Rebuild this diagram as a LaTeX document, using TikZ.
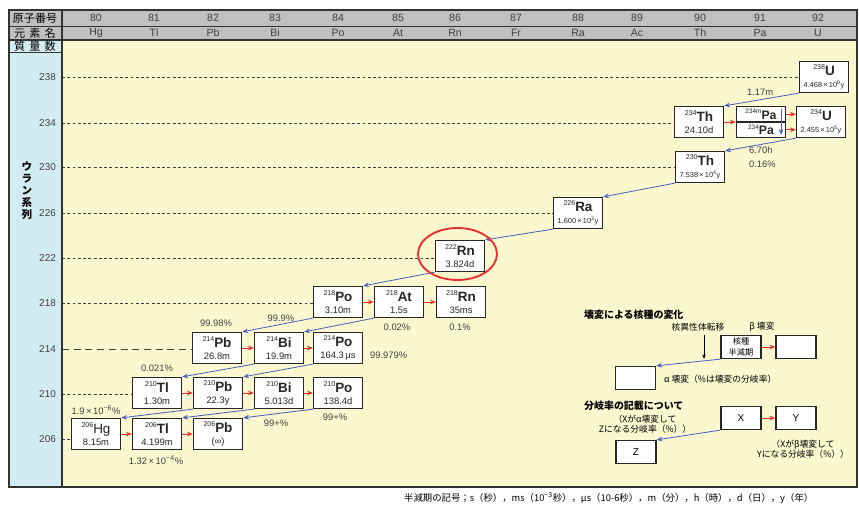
\documentclass[tikz,border=0pt]{standalone}
\usepackage{fontspec}
\setmainfont{Liberation Sans}
\newfontfamily\jp{Noto Sans CJK JP}
\definecolor{paper}{HTML}{FBF8D0}
\definecolor{side}{HTML}{D3ECF4}
\definecolor{head}{HTML}{C0C0C0}
\definecolor{adecay}{HTML}{4A5FBF}
\definecolor{bdecay}{HTML}{E8312F}
\definecolor{txtg}{HTML}{404040}
\usetikzlibrary{arrows.meta}
% nuclide: mass, symbol, half-life
\newcommand{\nuc}[3]{\raisebox{0.5em}{\fontsize{6}{6}\selectfont #1}{\fontsize{11.5}{12}\selectfont\bfseries #2}\\[-1.5pt]{\fontsize{8}{9}\selectfont #3}}
\newcommand{\nucs}[3]{\raisebox{0.5em}{\fontsize{6}{6}\selectfont #1}{\fontsize{11.5}{12}\selectfont\bfseries #2}\\[-1.5pt]{\fontsize{6.3}{8}\selectfont #3}}

\begin{document}
\begin{tikzpicture}[x=0.03cm, y=-0.03cm,
  nbox/.style={draw=black!85, line width=1.1pt, fill=white, minimum width=1.47cm, minimum height=0.93cm, inner sep=0pt, align=center, text=black!85},
  hbox/.style={draw=black!85, line width=1.1pt, fill=white, minimum width=1.47cm, minimum height=0.465cm, inner sep=0pt, text=black!85},
  lbox/.style={draw=black!85, line width=1.1pt, fill=white, minimum width=1.2cm, minimum height=0.69cm, inner sep=0pt, align=center, font={\jp\fontsize{7}{9}\selectfont}},
  adec/.style={draw=adecay, line width=0.7pt, -{Stealth[length=5pt,width=4pt]}},
  bdec/.style={draw=bdecay, line width=0.7pt, -{Stealth[length=5pt,width=4pt]}},
  massline/.style={draw=txtg, dash pattern=on 2.5pt off 2pt, line width=0.5pt},
  pct/.style={font=\fontsize{8}{9}\selectfont, text=txtg},
  hnum/.style={font=\fontsize{9}{10}\selectfont, text=txtg},
  tick/.style={font=\fontsize{8.5}{9}\selectfont, text=txtg, anchor=east},
  hlab/.style={font={\jp\fontsize{9.5}{10}\selectfont}},
  note/.style={font={\jp\fontsize{7.5}{9}\selectfont}},
]
\useasboundingbox (0,0) rectangle (859,509);

% table frame
\fill[paper] (62,40) rectangle (857,487);
\fill[side] (9,40) rectangle (62,487);
\fill[head] (9,10) rectangle (857,40);
\draw[line width=0.8pt, black!80] (9,26) -- (857,26);
\draw[line width=1.4pt, black!80] (9,40) -- (857,40);
\draw[line width=0.8pt, black!80] (9,52) -- (62,52);
\draw[line width=1pt, black!80] (62,10) -- (62,487);
\draw[line width=1.2pt, black!80] (9,10) rectangle (857,487);

\node[hlab] (hz) at (35,18) {原子番号};
\node[hlab] (hs) at (35,33) {元\hspace{3.5pt}素\hspace{3.5pt}名};
\node[hlab] (hm) at (35,46) {質\hspace{3.5pt}量\hspace{3.5pt}数};
\node[font={\jp\bfseries\fontsize{9}{10.2}\selectfont}, align=center] (series) at (27,191) {ウ\\ラ\\ン\\系\\列};

% atomic numbers and symbols
\node[hnum] (z80) at (96,18) {80};   \node[hnum] (e80) at (96,33) {Hg};
\node[hnum] (z81) at (154,18) {81};  \node[hnum] (e81) at (154,33) {Tl};
\node[hnum] (z82) at (213,18) {82};  \node[hnum] (e82) at (213,33) {Pb};
\node[hnum] (z83) at (275,18) {83};  \node[hnum] (e83) at (275,33) {Bi};
\node[hnum] (z84) at (338,18) {84};  \node[hnum] (e84) at (338,33) {Po};
\node[hnum] (z85) at (398,18) {85};  \node[hnum] (e85) at (398,33) {At};
\node[hnum] (z86) at (455,18) {86};  \node[hnum] (e86) at (455,33) {Rn};
\node[hnum] (z87) at (516,18) {87};  \node[hnum] (e87) at (516,33) {Fr};
\node[hnum] (z88) at (578,18) {88};  \node[hnum] (e88) at (578,33) {Ra};
\node[hnum] (z89) at (637,18) {89};  \node[hnum] (e89) at (637,33) {Ac};
\node[hnum] (z90) at (700,18) {90};  \node[hnum] (e90) at (700,33) {Th};
\node[hnum] (z91) at (760,18) {91};  \node[hnum] (e91) at (760,33) {Pa};
\node[hnum] (z92) at (818,18) {92};  \node[hnum] (e92) at (818,33) {U};

% mass numbers
\coordinate (m238) at (62,77);  \node[tick] (t238) at (60,77) {238};
\coordinate (m234) at (62,123); \node[tick] (t234) at (60,123) {234};
\coordinate (m230) at (62,167); \node[tick] (t230) at (60,167) {230};
\coordinate (m226) at (62,213); \node[tick] (t226) at (60,213) {226};
\coordinate (m222) at (62,258); \node[tick] (t222) at (60,258) {222};
\coordinate (m218) at (62,303); \node[tick] (t218) at (60,303) {218};
\coordinate (m214) at (62,349); \node[tick] (t214) at (60,349) {214};
\coordinate (m210) at (62,394); \node[tick] (t210) at (60,394) {210};
\coordinate (m206) at (62,439); \node[tick] (t206) at (60,439) {206};

% nuclides
\node[nbox] (U238) at (824,77) {\nucs{238}{U}{4.468\,×\,10\textsuperscript{9}y}};
\node[nbox] (Th234) at (699,122) {\nuc{234}{Th}{24.10d}};
\node[hbox] (PaM) at (761,114.25) {\raisebox{0.45em}{\fontsize{5.5}{6}\selectfont 234m}{\fontsize{10.5}{11}\selectfont\bfseries Pa}};
\node[hbox] (PaG) at (761,129.75) {\raisebox{0.45em}{\fontsize{5.5}{6}\selectfont 234}{\fontsize{10.5}{11}\selectfont\bfseries Pa}};
\node[nbox] (U234) at (821,122) {\nucs{234}{U}{2.455\,×\,10\textsuperscript{5}y}};
\node[nbox] (Th230) at (700,167) {\nucs{230}{Th}{7.538\,×\,10\textsuperscript{4}y}};
\node[nbox] (Ra226) at (578,213) {\nucs{226}{Ra}{1.600\,×\,10\textsuperscript{3}y}};
\node[nbox] (Rn222) at (460,256) {\nuc{222}{Rn}{3.824d}};
\node[nbox] (Po218) at (338,302) {\nuc{218}{Po}{3.10m}};
\node[nbox] (At218) at (399,302) {\nuc{218}{At}{1.5s}};
\node[nbox] (Rn218) at (461,302) {\nuc{218}{Rn}{35ms}};
\node[nbox] (Pb214) at (217,348) {\nuc{214}{Pb}{26.8m}};
\node[nbox] (Bi214) at (279,348) {\nuc{214}{Bi}{19.9m}};
\node[nbox] (Po214) at (338,348) {\nuc{214}{Po}{164.3\,μs}};
\node[nbox] (Tl210) at (157,393) {\nuc{210}{Tl}{1.30m}};
\node[nbox] (Pb210) at (218,393) {\nuc{210}{Pb}{22.3y}};
\node[nbox] (Bi210) at (279,393) {\nuc{210}{Bi}{5.013d}};
\node[nbox] (Po210) at (338,393) {\nuc{210}{Po}{138.4d}};
\node[nbox] (Hg206) at (96,434) {\raisebox{0.5em}{\fontsize{6}{6}\selectfont 206}{\fontsize{11.5}{12}\selectfont Hg}\\[-1.5pt]{\fontsize{8}{9}\selectfont 8.15m}};
\node[nbox] (Tl206) at (157,434) {\nuc{206}{Tl}{4.199m}};
\node[nbox] (Pb206) at (218,434) {\nuc{206}{Pb}{(∞)}};

% mass lines
\draw[massline] (m238) -- (m238 -| U238.west);
\draw[massline] (m234) -- (m234 -| Th234.west);
\draw[massline] (m230) -- (m230 -| Th230.west);
\draw[massline] (m226) -- (m226 -| Ra226.west);
\draw[massline] (m222) -- (m222 -| Rn222.west);
\draw[massline] (m218) -- (m218 -| Po218.west);
\draw[massline, dash pattern=on 6pt off 4pt] (m214) -- (m214 -| Pb214.west);
\draw[massline] (m210) -- (m210 -| Tl210.west);
\draw[massline] (m206) -- (m206 -| Hg206.west);

% alpha decays
\draw[adec] (U238.south west) -- (Th234.north east);
\draw[adec] (U234.south west) -- (Th230.north east);
\draw[adec] (Th230.south west) -- (Ra226.north east);
\draw[adec] (Ra226.south west) -- (Rn222.north east);
\draw[adec] (Rn222.south west) -- (Po218.north east);
\draw[adec] (Po218.south west) -- (Pb214.north east);
\draw[adec] (At218.south west) -- (Bi214.north east);
\draw[adec] (Bi214.south west) -- (Tl210.north east);
\draw[adec] (Po214.south west) -- (Pb210.north east);
\draw[adec] (Pb210.south west) -- (Hg206.north east);
\draw[adec] (Bi210.south west) -- (Tl206.north east);
\draw[adec] (Po210.south west) -- (Pb206.north east);
\draw[adec] ([xshift=-0.15cm,yshift=-0.08cm]PaM.north east) -- ([xshift=-0.15cm,yshift=0.1cm]PaG.south east);

% beta decays
\draw[bdec] (Th234.east) -- (Th234.east -| PaG.west);
\draw[bdec] (PaM.east) -- (PaM.east -| U234.west);
\draw[bdec] (PaG.east) -- (PaG.east -| U234.west);
\draw[bdec] (Po218) -- (At218);
\draw[bdec] (At218) -- (Rn218);
\draw[bdec] (Pb214) -- (Bi214);
\draw[bdec] (Bi214) -- (Po214);
\draw[bdec] (Tl210) -- (Pb210);
\draw[bdec] (Pb210) -- (Bi210);
\draw[bdec] (Bi210) -- (Po210);
\draw[bdec] (Hg206) -- (Tl206);
\draw[bdec] (Tl206) -- (Pb206);

% highlight
\draw[bdecay, line width=1.6pt] (Rn222) ++(-2.5,-2) ellipse [x radius=1.185cm, y radius=0.78cm];

% half-lives and branching
\node[pct, anchor=west] (l1) at (743,92) {1.17m};
\node[pct, anchor=west] (l2) at (745,150) {6.70h};
\node[pct, anchor=west] (l3) at (745,164) {0.16\%};
\node[pct] (l4) at (216,323) {99.98\%};
\node[pct] (l5) at (281,318) {99.9\%};
\node[pct] (l6) at (397,327) {0.02\%};
\node[pct] (l7) at (460,327) {0.1\%};
\node[pct, anchor=west] (l8) at (366,355) {99.979\%};
\node[pct] (l9) at (157,368) {0.021\%};
\node[pct] (l10) at (96,410) {1.9\,×\,10\textsuperscript{−6}\%};
\node[pct] (l11) at (276,423) {99+\%};
\node[pct] (l12) at (335,417) {99+\%};
\node[pct] (l13) at (156,460) {1.32\,×\,10\textsuperscript{−4}\%};

% legend
\node[font={\jp\bfseries\fontsize{8.5}{9}\selectfont}, anchor=west] (lgt1) at (580,315) {壊変による核種の変化};
\node[note] (lgiso) at (698,327) {核異性体転移};
\node[note] (lgbeta) at (762,327) {β 壊変};
\node[lbox] (lgA) at (741,347) {核種\\半減期};
\node[lbox] (lgB) at (796,347) {};
\node[lbox] (lgC) at (635.5,378) {};
\node[note, anchor=west] (lgalpha) at (660,379) {α 壊変（\%は壊変の分岐率）};
\coordinate (itop) at (704,335);
\coordinate (ibot) at (704,359);
\draw[black, line width=0.6pt, -{Stealth[length=4pt,width=3pt]}] (itop) -- (ibot);
\draw[bdec] (lgA) -- (lgB);
\draw[adec] (lgA.south west) -- (lgC.north east);

\node[font={\jp\bfseries\fontsize{8.5}{9}\selectfont}, anchor=west] (lgt2) at (580,406) {分岐率の記載について};
\node[lbox, font=\fontsize{8.5}{9}\selectfont] (lgX) at (741,418) {X};
\node[lbox, font=\fontsize{8.5}{9}\selectfont] (lgY) at (796,418) {Y};
\node[lbox, font=\fontsize{8.5}{9}\selectfont] (lgZ) at (636,452) {Z};
\draw[bdec] (lgX) -- (lgY);
\draw[adec] (lgX.south west) -- (lgZ.north east);
\node[note, align=center] (lgzn) at (645,424) {（Xがα壊変して\\Zになる分岐率（\%））};
\node[note, align=center] (lgyn) at (803,449) {（Xがβ壊変して\\Yになる分岐率（\%））};

% footer
\node[font={\jp\fontsize{8}{9}\selectfont}, anchor=west] (foot) at (400,498) {半減期の記号；s（秒），ms（10\textsuperscript{−3}秒），μs（10-6秒），m（分），h（時），d（日），y（年）};
\end{tikzpicture}
\end{document}
